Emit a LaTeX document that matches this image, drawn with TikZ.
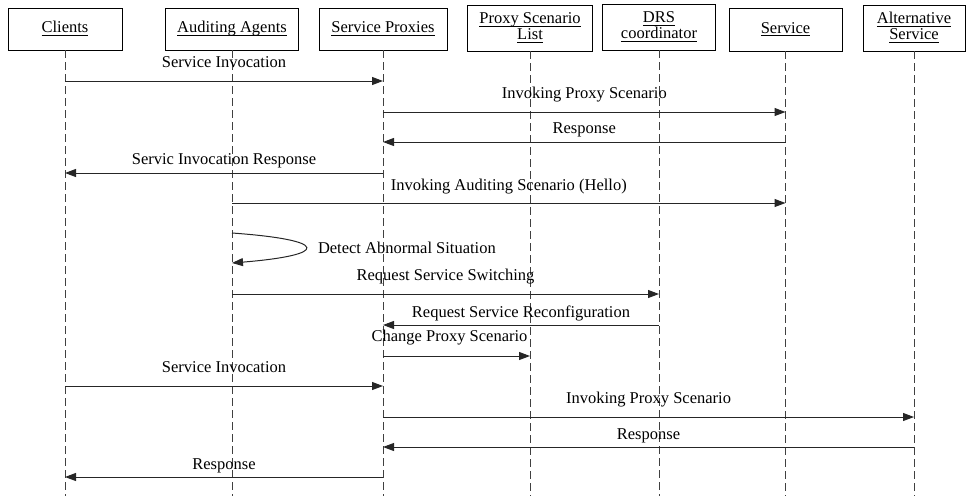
\documentclass[tikz,border=0pt]{standalone}
\usepackage{amsmath}
\usepackage{fontspec}
\setmainfont{Liberation Serif}
\usetikzlibrary{arrows.meta,calc}
\newcommand{\ulx}[1]{\underline{\smash[b]{#1}}}
\begin{document}
\begin{tikzpicture}[x=1pt,y=-1pt,
  actor/.style={draw=black, line width=0.9pt, minimum height=42pt, inner sep=0pt, align=center, font=\fontsize{16.5}{16}\selectfont, fill=white},
  life/.style={draw=black!75, line width=0.9pt, dash pattern=on 8pt off 4pt},
  msg/.style={draw=black!85, line width=1pt, -{Triangle[length=11pt,width=8pt]}},
  lbl/.style={font=\fontsize{16.5}{17}\selectfont, anchor=base, inner sep=0pt},
]
\useasboundingbox (0,0) rectangle (966,496);
% actors
\node[actor, minimum width=114pt] (c) at (65,29) {\ulx{Clients}};
\node[actor, minimum width=133pt] (a) at (232,29) {\ulx{Auditing Agents}};
\node[actor, minimum width=128pt] (p) at (383,29) {\ulx{Service Proxies}};
\node[actor, minimum width=125pt, minimum height=46pt] (l) at (530,28) {\ulx{Proxy Scenario}\\\ulx{List}};
\node[actor, minimum width=113pt, minimum height=46pt] (d) at (659,27) {\ulx{DRS}\\\ulx{coordinator}};
\node[actor, minimum width=113pt, minimum height=43pt] (s) at (785.5,29.5) {\ulx{Service}};
\node[actor, minimum width=102pt, minimum height=46pt] (alt) at (914,28) {\ulx{Alternative}\\\ulx{Service}};
% lifelines
\foreach \n in {c,a,p,l,d,s,alt}{
  \draw[life] (\n.south) -- (\n.south |- 0,496);
}
% messages
\draw[msg] (c |- 0,81) -- node[lbl, yshift=14pt]{Service Invocation} (p |- 0,81);
\draw[msg] (p |- 0,112) -- node[lbl, yshift=14pt]{Invoking Proxy Scenario} (s |- 0,112);
\draw[msg] (s |- 0,142) -- node[lbl, yshift=9pt]{Response} (p |- 0,142);
\draw[msg] (p |- 0,173) -- node[lbl, yshift=9pt]{Servic Invocation Response} (c |- 0,173);
\draw[msg] (a |- 0,203) -- node[lbl, yshift=13pt]{Invoking Auditing Scenario (Hello)} (s |- 0,203);
\draw[msg] (a |- 0,233) .. controls +(98,7) and +(98,-8) .. node[pos=0.5, font=\fontsize{16.5}{17}\selectfont, anchor=west, inner sep=0pt, xshift=12pt]{Detect Abnormal Situation} (a |- 0,263);
\draw[msg] (a |- 0,294) -- node[lbl, yshift=14pt]{Request Service Switching} (d |- 0,294);
\draw[msg] (d |- 0,325) -- node[lbl, yshift=8pt]{Request Service Reconfiguration} (p |- 0,325);
\draw[msg] (p |- 0,356) -- node[lbl, yshift=15pt, xshift=-7pt]{Change Proxy Scenario} (l |- 0,356);
\draw[msg] (c |- 0,386) -- node[lbl, yshift=14pt]{Service Invocation} (p |- 0,386);
\draw[msg] (p |- 0,417) -- node[lbl, yshift=14pt]{Invoking Proxy Scenario} (alt |- 0,417);
\draw[msg] (alt |- 0,447) -- node[lbl, yshift=8pt]{Response} (p |- 0,447);
\draw[msg] (p |- 0,477) -- node[lbl, yshift=8pt]{Response} (c |- 0,477);
\end{tikzpicture}
\end{document}
